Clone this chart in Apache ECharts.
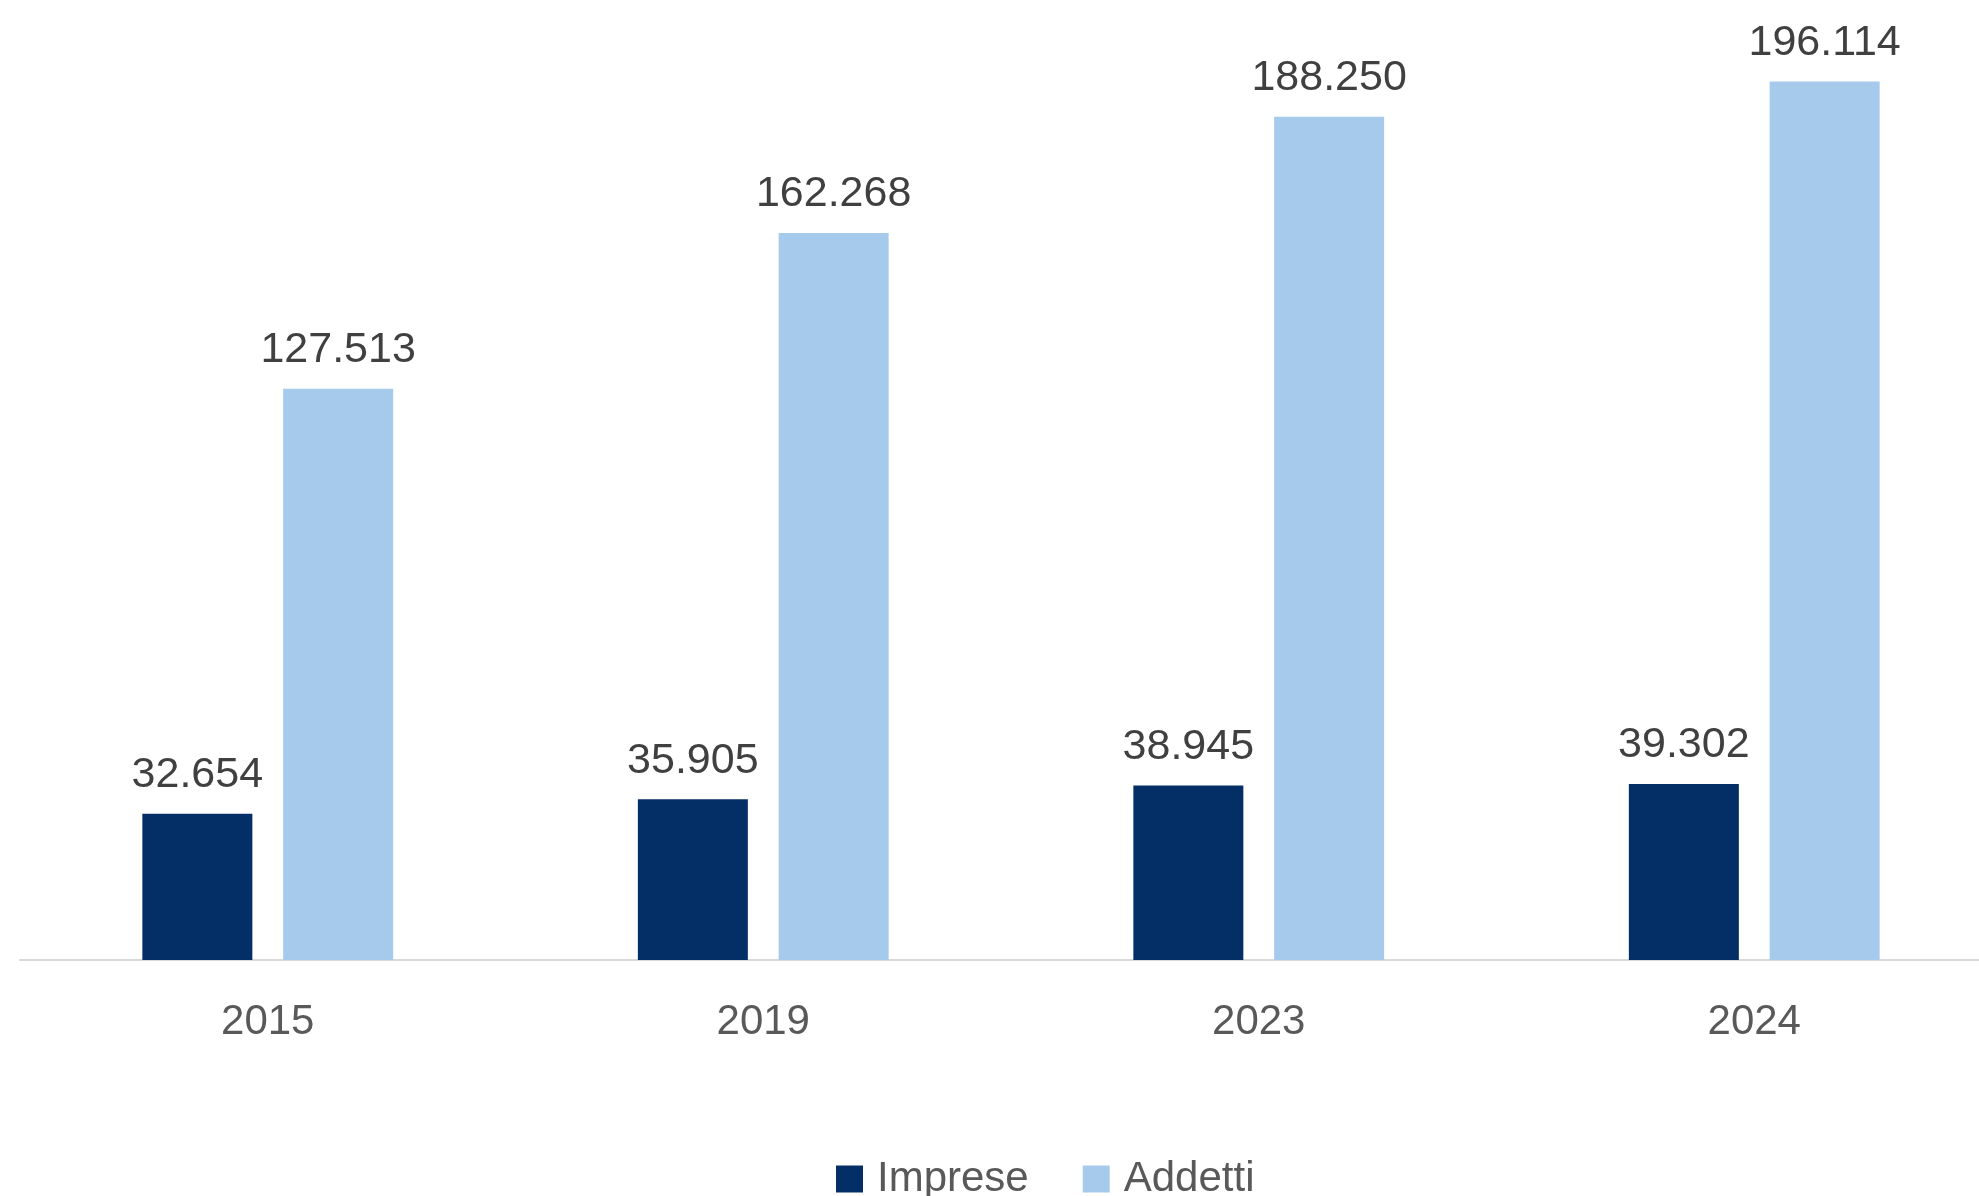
<!DOCTYPE html>
<html>
<head>
<meta charset="utf-8">
<script src="https://cdn.jsdelivr.net/npm/echarts@6/dist/echarts.min.js"></script>
<style>
html,body{margin:0;padding:0;background:#fff;}
#chart{width:1979px;height:1196px;}
</style>
</head>
<body>
<div id="chart"></div>
<script>
var categories = ['2015', '2019', '2023', '2024'];
var imprese = [32654, 35905, 38945, 39302];
var addetti = [127513, 162268, 188250, 196114];
var seriesNames = ['Imprese', 'Addetti'];

function fmt(v) {
  return String(v).replace(/\B(?=(\d{3})+(?!\d))/g, '.');
}

var FONT = '"Liberation Sans", Arial, sans-serif';
var chart = echarts.init(document.getElementById('chart'));
var labelCfg = {
  show: true,
  position: 'top',
  distance: 17,
  color: '#404040',
  fontSize: 43,
  fontFamily: FONT,
  formatter: function (p) { return fmt(p.value); }
};
chart.setOption({
  animation: false,
  grid: { left: 20, width: 1982, top: 64, bottom: 236, containLabel: false, outerBoundsMode: 'none' },
  legend: {
    data: seriesNames,
    left: 836,
    top: 1158,
    padding: 0,
    itemWidth: 27,
    itemHeight: 27,
    itemGap: 54,
    icon: 'rect',
    textStyle: { color: '#595959', fontSize: 42, fontFamily: FONT, padding: [0, 0, 0, 9] }
  },
  xAxis: {
    type: 'category',
    data: categories,
    axisLine: { lineStyle: { color: '#D9D9D9', width: 2 } },
    axisTick: { show: false },
    axisLabel: { color: '#595959', fontSize: 42, fontFamily: FONT, margin: 41 }
  },
  yAxis: {
    type: 'value',
    min: 0,
    max: 200000,
    show: false,
    splitLine: { show: false }
  },
  series: [
    {
      name: seriesNames[0],
      type: 'bar',
      data: imprese,
      barWidth: 110,
      barGap: '28%',
      itemStyle: { color: '#042F66' },
      label: labelCfg
    },
    {
      name: seriesNames[1],
      type: 'bar',
      data: addetti,
      barWidth: 110,
      barGap: '28%',
      itemStyle: { color: '#A6CAEC' },
      label: labelCfg
    }
  ]
});
</script>
</body>
</html>
